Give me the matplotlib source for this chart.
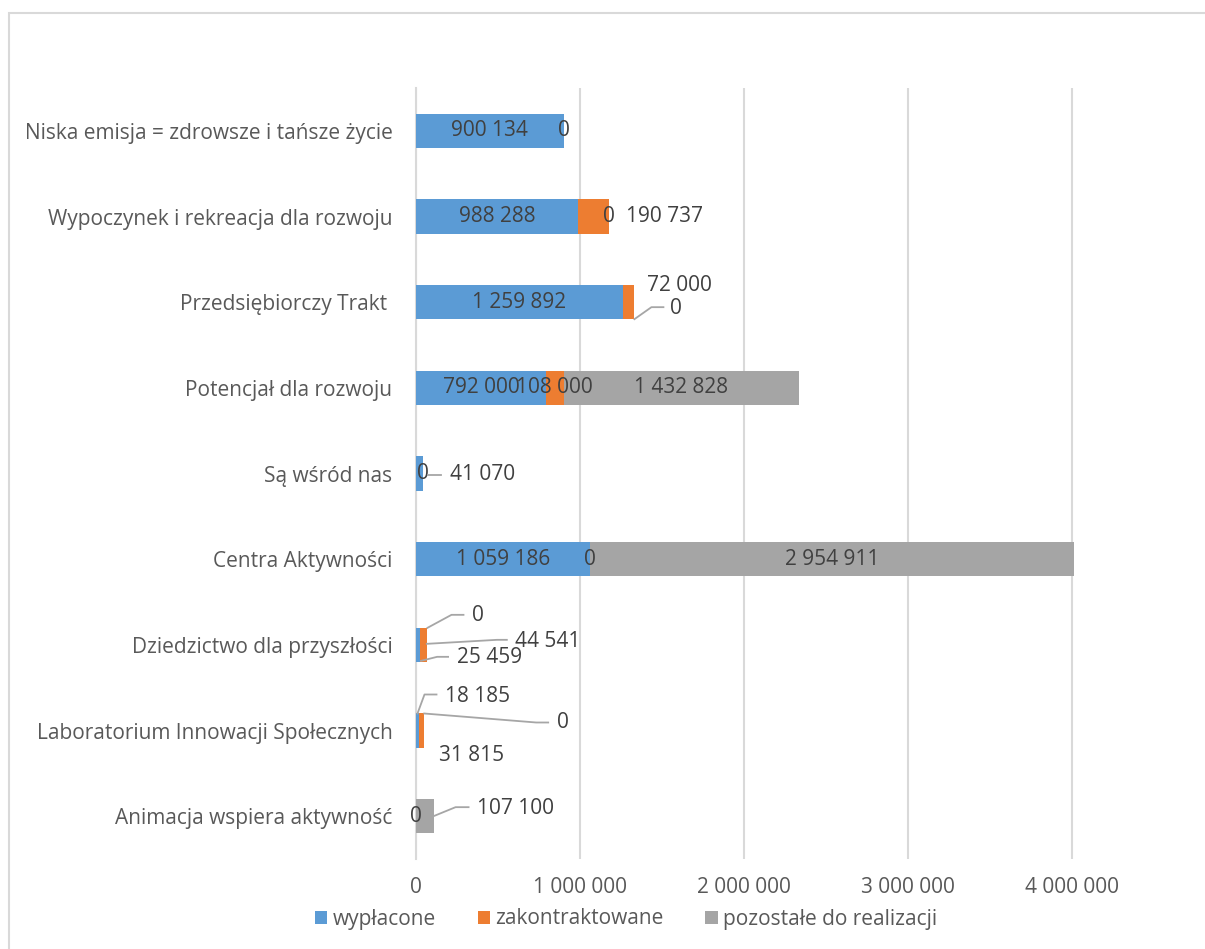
import matplotlib.pyplot as plt
from matplotlib.patches import Rectangle
from matplotlib.lines import Line2D

plt.rcParams['font.family'] = ['Open Sans', 'DejaVu Sans']

kategorie = ["Niska emisja = zdrowsze i tańsze życie",
             "Wypoczynek i rekreacja dla rozwoju",
             "Przedsiębiorczy Trakt ",
             "Potencjał dla rozwoju",
             "Są wśród nas",
             "Centra Aktywności",
             "Dziedzictwo dla przyszłości",
             "Laboratorium Innowacji Społecznych",
             "Animacja wspiera aktywność"]
wyplacone = [900134, 988288, 1259892, 792000, 41070, 1059186, 25459, 18185, 0]
zakontraktowane = [0, 190737, 72000, 108000, 0, 0, 44541, 31815, 0]
pozostale = [0, 0, 0, 1432828, 0, 2954911, 0, 0, 107100]
serie = ["wypłacone", "zakontraktowane", "pozostałe do realizacji"]
kolory = ["#5B9BD5", "#ED7D31", "#A5A5A5"]
xticki = [0, 1000000, 2000000, 3000000, 4000000]

tekst = "#595959"
fs = 15

def fmt(v):
    return f"{v:,.0f}".replace(",", " ")

fig = plt.figure(figsize=(12.05, 9.49), dpi=100)
W, H = 1205, 949
# os: 0 na px 416, 4M na px 1072, gora 88, dol 859
px_per = 164e-6
xmax = 4.1e6
ax = fig.add_axes([416 / W, 1 - 859 / H, xmax * px_per / W, (859 - 88) / H])

wartosci = [wyplacone, zakontraktowane, pozostale]
y = list(range(len(kategorie)))
lewo = [0] * len(kategorie)
for s, vals in enumerate(wartosci):
    ax.barh(y, vals, left=lewo, height=0.4, color=kolory[s], label=serie[s], zorder=3)
    lewo = [a + b for a, b in zip(lewo, vals)]

ax.set_xlim(0, xmax)
ax.set_ylim(len(kategorie) - 0.5, -0.5)
ax.set_xticks(xticki)
ax.set_xticklabels([fmt(t) for t in xticki])
ax.set_yticks(y)
ax.set_yticklabels(kategorie)
ax.tick_params(length=0, labelsize=fs, labelcolor=tekst)
ax.tick_params(axis='y', pad=17)
ax.tick_params(axis='x', pad=13)
ax.grid(axis='x', color='#D9D9D9', linewidth=1.5, zorder=0)
for k in ['top', 'right', 'bottom']:
    ax.spines[k].set_visible(False)
ax.spines['left'].set_color('#D9D9D9')
ax.spines['left'].set_linewidth(1.5)

# etykiety danych: (kategoria, seria) -> (kotwica, przesuniecie etykiety, linia odniesienia) w pikselach
# kotwica: 'c' srodek segmentu, 'e' koniec segmentu; dy w dol obrazu dodatnie
specjalne = {
    (0, 1): ('e', (0, 0), None),
    (0, 2): None,
    (1, 1): ('c', (71, 0), None),
    (1, 2): ('e', (0, 0), None),
    (2, 1): ('c', (51, -17), None),
    (2, 2): ('e', (42, 6), [(0, 17), (17, 5), (29, 5)]),
    (4, 0): ('c', (63, 1), [(9, 1), (22, 1)]),
    (4, 1): ('e', (0, 0), None),
    (4, 2): None,
    (5, 1): ('e', (0, 0), None),
    (6, 0): ('c', (71, 13), [(3, 16), (19, 12), (30, 12)]),
    (6, 1): ('c', (124, -3), [(3, -1), (73, -5), (83, -5)]),
    (6, 2): ('e', (50, -29), [(0, -17), (24, -30), (36, -30)]),
    (7, 0): ('c', (60, -34), [(0, -17), (7, -36), (19, -36)]),
    (7, 1): ('c', (50, 25), None),
    (7, 2): ('e', (139, -8), [(0, -17), (112, -8), (124, -8)]),
    (8, 0): ('e', (0, 0), None),
    (8, 1): None,
    (8, 2): ('e', (82, -8), [(0, 0), (22, -9), (35, -9)]),
}

fig.canvas.draw()
start = [0] * len(kategorie)
for s, vals in enumerate(wartosci):
    for i, v in enumerate(vals):
        x0 = start[i]
        start[i] += v
        key = (i, s)
        if key in specjalne:
            opis = specjalne[key]
            if opis is None:
                continue
            kot, (dx, dy), linia = opis
        else:
            kot, (dx, dy), linia = 'c', (0, 0), None
        xa = x0 + v / 2 if kot == 'c' else x0 + v
        ax.annotate(fmt(v), (xa, i), xytext=(dx, -dy), textcoords='offset pixels',
                    ha='center', va='center', fontsize=fs, color='#404040', zorder=5)
        if linia:
            px, py = ax.transData.transform((xa, i))
            xs = [px + a for a, b in linia]
            ys = [py - b for a, b in linia]
            fig.add_artist(Line2D(xs, ys, transform=None, color='#A6A6A6', linewidth=1.3, zorder=4))

fig.legend(loc='center', bbox_to_anchor=(626 / W, 1 - 919 / H), ncol=3, frameon=False,
           fontsize=fs, labelcolor=tekst, handlelength=0.6, handleheight=0.6,
           handletextpad=0.25, columnspacing=2.0)

fig.add_artist(Rectangle((9 / W, -0.01), 1.02, 1 - 12.5 / H + 0.01, transform=fig.transFigure,
                         fill=False, edgecolor='#D9D9D9', linewidth=1.5))

fig.savefig("out.png", dpi=100)
